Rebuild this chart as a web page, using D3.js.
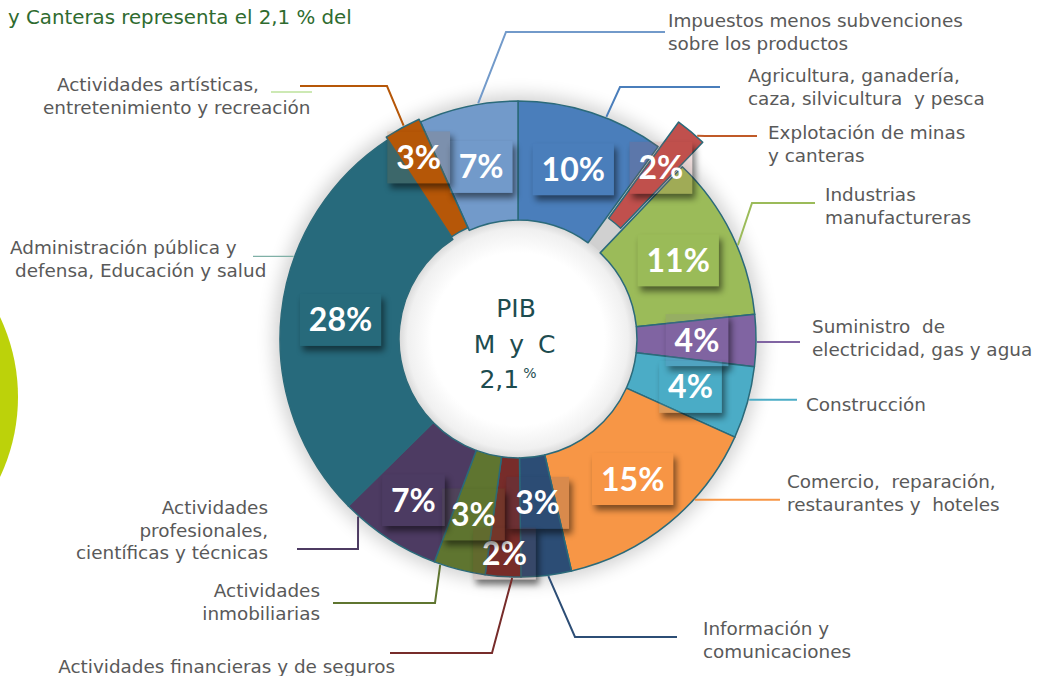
<!DOCTYPE html>
<html><head><meta charset="utf-8">
<script src="https://cdn.jsdelivr.net/npm/d3@7"></script>
<style>html,body{margin:0;padding:0;background:#fff;} svg{display:block}</style>
</head><body><svg id="chart" width="1045" height="676"></svg>
<script>
// ---------- DATA ----------
const sectors = [
  "Agricultura, ganadería, caza, silvicultura y pesca",
  "Explotación de minas y canteras",
  "Industrias manufactureras",
  "Suministro de electricidad, gas y agua",
  "Construcción",
  "Comercio, reparación, restaurantes y hoteles",
  "Información y comunicaciones",
  "Actividades financieras y de seguros",
  "Actividades inmobiliarias",
  "Actividades profesionales, científicas y técnicas",
  "Administración pública y defensa, Educación y salud",
  "Actividades artísticas, entretenimiento y recreación",
  "Impuestos menos subvenciones sobre los productos"
];
const shares = [10.0, 2.1, 11.2, 3.5, 4.9, 14.6, 3.4, 2.4, 3.5, 6.9, 28.1, 2.5, 6.7];
const pctLabels = ["10%", "2%", "11%", "4%", "4%", "15%", "3%", "2%", "3%", "7%", "28%", "3%", "7%"];
const labelLines = [
  ["Agricultura, ganadería,", "caza, silvicultura  y pesca"],
  ["Explotación de minas", "y canteras"],
  ["Industrias", "manufactureras"],
  ["Suministro  de", "electricidad, gas y agua"],
  ["Construcción"],
  ["Comercio,  reparación,", "restaurantes y  hoteles"],
  ["Información y", "comunicaciones"],
  ["Actividades financieras y de seguros"],
  ["Actividades", "inmobiliarias"],
  ["Actividades", "profesionales,", "científicas y técnicas"],
  ["Administración pública y", "defensa, Educación y salud"],
  ["Actividades artísticas,", "entretenimiento y recreación"],
  ["Impuestos menos subvenciones", "sobre los productos"]
];
const titleText = "y Canteras representa el 2,1 % del";
const centerLines = ["PIB", "M y C", "2,1"];

// ---------- STYLE / LAYOUT ----------
const colors = ["#4a7ebb", "#c0504d", "#9bbb59", "#8064a2", "#4bacc6", "#f79646",
                "#2c4d75", "#772c2a", "#5f7530", "#4d3b62", "#276a7c", "#b65708", "#729aca"];
const leaderColors = ["#4a7ebb", "#c05a28", "#9bbb59", "#8064a2", "#4bacc6", "#f79646",
                "#2c4d75", "#772c2a", "#5f7530", "#4d3b62", "#7fb0a6", "#b65708", "#729aca"];
const explode = [0, 32, 0, 0, 0, 0, 0, 0, 0, 0, 0, 3, 0];
const labelRadius = [null, 223, null, 179, 179, 181, 165, 215, 181, 192, null, 207, 176];
// leader: touching angle (deg), elbow point (or null), end x
const leaders = [
  {a: 21.7, elbow: [620, 87], endX: 720},
  {a: 41.6, elbow: [705, 136], endX: 757},
  {a: 66.9, elbow: [752, 203], endX: 815},
  {a: 90.7, elbow: null, endX: 800},
  {a: 104.7, elbow: null, endX: 797},
  {a: 132.3, elbow: null, endX: 780},
  {a: 172.7, elbow: [575, 637], endX: 677},
  {a: 181.4, elbow: [492, 653], endX: 390},
  {a: 199.0, elbow: [435, 603], endX: 333},
  {a: 222.0, elbow: [358, 549], endX: 297},
  {a: 290.2, elbow: null, endX: 253},
  {a: 331.8, elbow: [387, 86], endX: 300},
  {a: 350.4, elbow: [506, 32], endX: 665}
];
// text block: anchor, x, first baseline (per-line x optional)
const textPos = [
  {anchor: "start", x: 748, y: 82},
  {anchor: "start", x: 768, y: 139},
  {anchor: "start", x: 825, y: 201},
  {anchor: "start", x: 812, y: 333},
  {anchor: "start", x: 806, y: 411},
  {anchor: "start", x: 787, y: 488},
  {anchor: "start", x: 703, y: 635},
  {anchor: "end", x: 395, y: 673},
  {anchor: "end", x: 320, y: 597},
  {anchor: "end", x: 268, y: 514},
  {anchor: "start", xs: [10, 15], y: 254},
  {anchor: "start", xs: [57, 43], y: 91},
  {anchor: "start", x: 668, y: 27}
];

const W = 1045, H = 676;
const cx = 518, cy = 339, R = 238, r0 = 119;
const svg = d3.select("#chart");
const defs = svg.append("defs");

const blur = defs.append("filter").attr("id", "ringGlow").attr("x", "-30%").attr("y", "-30%").attr("width", "160%").attr("height", "160%");
blur.append("feGaussianBlur").attr("stdDeviation", 9);
const sblur = defs.append("filter").attr("id", "boxShadow").attr("x", "-50%").attr("y", "-50%").attr("width", "200%").attr("height", "200%");
sblur.append("feGaussianBlur").attr("stdDeviation", 3);
const hole = defs.append("radialGradient").attr("id", "holeGrad");
hole.append("stop").attr("offset", "0.72").attr("stop-color", "#ffffff");
hole.append("stop").attr("offset", "0.92").attr("stop-color", "#f0f0f0");
hole.append("stop").attr("offset", "1").attr("stop-color", "#d6d6d6");

// lime decorative circle
svg.append("circle").attr("cx", -169).attr("cy", 397).attr("r", 187).attr("fill", "#bcd20a");

// title fragment
svg.append("text").attr("x", 8).attr("y", 24).attr("fill", "#2f6b2f")
  .attr("font-family", "'DejaVu Sans', Verdana, sans-serif").attr("font-size", 19.8)
  .text(titleText);

const g = svg.append("g").attr("transform", `translate(${cx},${cy})`);

// soft glow behind ring
g.append("circle").attr("r", R + 6).attr("fill", "#000").attr("opacity", 0.18).attr("filter", "url(#ringGlow)");
g.append("circle").attr("r", r0 + 1).attr("fill", "url(#holeGrad)");

const pie = d3.pie().sort(null).value(d => d).startAngle(0).endAngle(2 * Math.PI);
const arcs = pie(shares);
const arc = d3.arc().innerRadius(r0).outerRadius(R);
const polar = (rad, a) => [rad * Math.sin(a), -rad * Math.cos(a)];
const mid = d => (d.startAngle + d.endAngle) / 2;

const order = d3.range(arcs.length).sort((a, b) => explode[a] - explode[b]);
g.selectAll("path.slice").data(order).join("path")
  .attr("class", "slice")
  .attr("d", i => arc(arcs[i]))
  .attr("transform", i => { const o = polar(explode[i], mid(arcs[i])); return `translate(${o[0]},${o[1]})`; })
  .attr("fill", i => colors[i])
  .attr("stroke", "#2b6a7a").attr("stroke-width", 1.5).attr("stroke-linejoin", "round");

// leader lines
const lg = svg.append("g");
arcs.forEach((d, i) => {
  const L = leaders[i];
  const o = polar(explode[i], mid(d));
  const s = polar(R + 1, L.a * Math.PI / 180);
  const p0 = [cx + s[0] + o[0], cy + s[1] + o[1]];
  const pts = [p0];
  if (L.elbow) pts.push(L.elbow);
  const last = pts[pts.length - 1];
  pts.push([L.endX, last[1]]);
  lg.append("path").attr("d", d3.line()(pts)).attr("fill", "none")
    .attr("stroke", leaderColors[i]).attr("stroke-width", i === 10 ? 1.2 : 2);
});
// small decorative green line
lg.append("line").attr("x1", 271).attr("x2", 312).attr("y1", 92).attr("y2", 92)
  .attr("stroke", "#9bd36b").attr("stroke-width", 1.2);

// category texts
const tg = svg.append("g").attr("font-family", "'DejaVu Sans', Verdana, sans-serif")
  .attr("font-size", 18.4).attr("fill", "#595959");
labelLines.forEach((lines, i) => {
  const P = textPos[i];
  lines.forEach((ln, j) => {
    tg.append("text").attr("x", P.xs ? P.xs[j] : P.x).attr("y", P.y + j * 22.5)
      .attr("text-anchor", P.anchor).attr("xml:space", "preserve").style("white-space", "pre").text(ln);
  });
});

// percent labels
const pg = g.append("g");
arcs.forEach((d, i) => {
  const lr = labelRadius[i] == null ? (R + r0) / 2 : labelRadius[i];
  const c = polar(lr, mid(d));
  const grp = pg.append("g").attr("transform", `translate(${c[0]},${c[1]})`);
  const t = grp.append("text").attr("text-anchor", "middle").attr("dy", "0.36em")
    .attr("font-family", "Lato, 'Open Sans', sans-serif").attr("font-weight", 700)
    .attr("font-size", 32).attr("fill", "#fff").text(pctLabels[i]);
  const tw = t.node().getComputedTextLength();
  const bw = tw + 18, bh = 52;
  const mid_ = "m" + i;
  const mask = defs.append("mask").attr("id", mid_).attr("maskUnits", "userSpaceOnUse")
    .attr("x", -500).attr("y", -500).attr("width", 1000).attr("height", 1000);
  mask.append("rect").attr("x", -500).attr("y", -500).attr("width", 1000).attr("height", 1000).attr("fill", "#fff");
  mask.append("rect").attr("x", -bw / 2).attr("y", -bh / 2).attr("width", bw).attr("height", bh).attr("fill", "#000");
  const sh = grp.insert("g", "text").attr("mask", `url(#${mid_})`);
  sh.append("rect").attr("x", -bw / 2 + 3).attr("y", -bh / 2 + 5).attr("width", bw).attr("height", bh)
    .attr("fill", "#000").attr("opacity", 0.5).attr("filter", "url(#boxShadow)");
  grp.insert("rect", "text").attr("x", -bw / 2).attr("y", -bh / 2).attr("width", bw).attr("height", bh)
    .attr("fill", colors[i]).attr("fill-opacity", 0.15);
});

// center text
const ct = g.append("g").attr("font-family", "'DejaVu Sans', Verdana, sans-serif").attr("fill", "#1d4c4f")
  .attr("text-anchor", "middle");
ct.append("text").attr("x", -2).attr("y", -22).attr("font-size", 25).text(centerLines[0]);
ct.append("text").attr("x", -2).attr("y", 14).attr("font-size", 25).attr("letter-spacing", 3).text(centerLines[1]);
const t3 = ct.append("text").attr("x", -10).attr("y", 49).attr("font-size", 25);
t3.append("tspan").text(centerLines[2]);
t3.append("tspan").attr("font-size", 14).attr("dx", 4).attr("dy", -10).text("%");
</script></body></html>
